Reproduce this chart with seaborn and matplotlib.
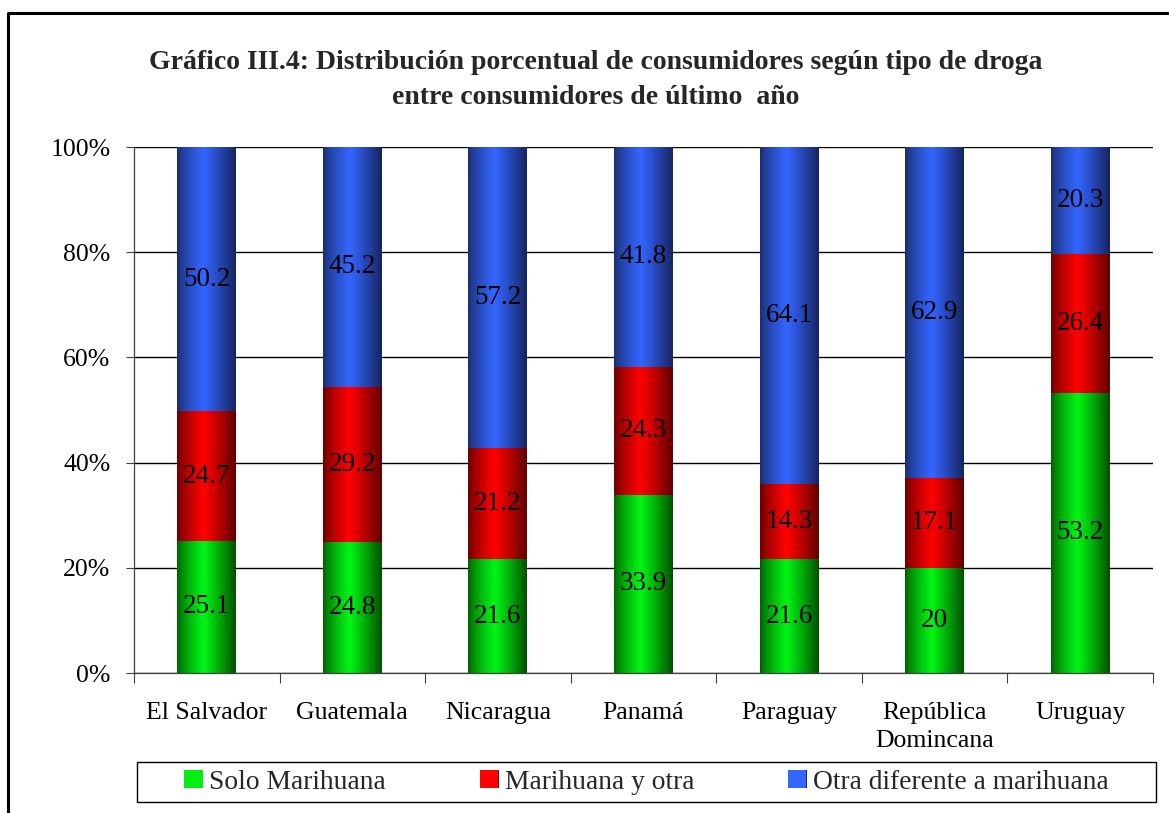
import numpy as np
import pandas as pd
import matplotlib
matplotlib.use("Agg")
import matplotlib.pyplot as plt
import seaborn as sns
from matplotlib.lines import Line2D
from matplotlib.patches import Rectangle, Patch

# ---- data ----
countries = ["El Salvador", "Guatemala", "Nicaragua", "Panamá", "Paraguay",
             "República\nDomincana", "Uruguay"]
solo_marihuana = [25.1, 24.8, 21.6, 33.9, 21.6, 20.0, 53.2]
marihuana_y_otra = [24.7, 29.2, 21.2, 24.3, 14.3, 17.1, 26.4]
otra_diferente = [50.2, 45.2, 57.2, 41.8, 64.1, 62.9, 20.3]
series_names = ["Solo Marihuana", "Marihuana y otra", "Otra diferente a marihuana"]
title = ("Gráfico III.4: Distribución porcentual de consumidores según tipo de droga\n"
         "entre consumidores de último  año")
y_ticks = [0, 0.2, 0.4, 0.6, 0.8, 1.0]
y_ticklabels = ["0%", "20%", "40%", "60%", "80%", "100%"]

sns.set_theme(style="white")
plt.rcParams["font.family"] = ["Liberation Serif", "DejaVu Serif"]

s = np.array(solo_marihuana)
m = np.array(marihuana_y_otra)
o = np.array(otra_diferente)
tot = s + m + o
df = pd.DataFrame({
    "country": countries,
    "c1": s / tot,
    "c2": (s + m) / tot,
    "c3": (s + m + o) / tot,
})

W, H = 1169, 813
fig = plt.figure(figsize=(W / 100, H / 100), dpi=100)
ax = fig.add_axes([134 / W, 1 - 673 / H, (1153 - 134) / W, (673 - 147) / H])

# gradient profiles: (left, bright, right)
grad_cols = {
    "c3": [(26, 42, 105), (51, 102, 255), (22, 36, 95)],
    "c2": [(100, 0, 0), (255, 0, 0), (95, 0, 0)],
    "c1": [(0, 90, 0), (0, 245, 20), (0, 80, 0)],
}
mid_cols = {"c3": "#3366ff", "c2": "#ff0000", "c1": "#00ee11"}

bw = 0.405
layer_z = {"c3": 2.0, "c2": 2.1, "c1": 2.2}
patch_groups = {}
for col in ["c3", "c2", "c1"]:
    n0 = len(ax.patches)
    sns.barplot(data=df, x="country", y=col, color=mid_cols[col], width=bw,
                saturation=1, ax=ax, order=countries, zorder=layer_z[col],
                linewidth=0)
    patch_groups[col] = ax.patches[n0:]


def make_grad(cols, n=200):
    left, mid, right = [np.array(c) / 255 for c in cols]
    t = np.linspace(0, 1, n)
    p = 0.45
    out = np.zeros((1, n, 3))
    for i, ti in enumerate(t):
        if ti <= p:
            f = (ti / p) ** 0.7
            out[0, i] = left + (mid - left) * f
        else:
            f = ((ti - p) / (1 - p)) ** 1.1
            out[0, i] = mid + (right - mid) * f
    return out


for col, patches in patch_groups.items():
    g = make_grad(grad_cols[col])
    for p in patches:
        x0, y0 = p.get_x(), p.get_y()
        w, h = p.get_width(), p.get_height()
        im = ax.imshow(g, extent=[x0, x0 + w, y0, y0 + h], aspect="auto",
                       zorder=layer_z[col] + 0.01, interpolation="bilinear")
        im.set_clip_path(p)

ax.set_xlim(-0.5, len(countries) - 0.5)
ax.set_ylim(0, 1)

# labels centered in segments
bottoms = [np.zeros(len(s)), df["c1"].values, df["c2"].values]
tops = [df["c1"].values, df["c2"].values, df["c3"].values]
vals = [s, m, o]
for b, t, v in zip(bottoms, tops, vals):
    for i in range(len(countries)):
        txt = f"{v[i]:g}"
        ax.text(i, (b[i] + t[i]) / 2, txt, ha="center", va="center",
                fontsize=19.5, color="black", zorder=5)

# axes styling
ax.set_yticks(y_ticks)
ax.set_yticklabels(y_ticklabels, fontsize=18.5)
ax.yaxis.grid(True, color="black", linewidth=1.0)
ax.set_axisbelow(True)
ax.tick_params(axis="y", which="major", left=True, length=6, width=0.8,
               color="#404040", pad=11, labelcolor="black")
ax.set_xticks(range(len(countries)))
ax.set_xticklabels(countries, fontsize=18.5, linespacing=1.35)
ax.set_xticks(np.arange(-0.5, len(countries)), minor=True)
ax.tick_params(axis="x", which="major", length=0, pad=21, labelcolor="black")
ax.tick_params(axis="x", which="minor", bottom=True, length=7, width=0.8,
               color="#404040")
ax.set_xlabel("")
ax.set_ylabel("")
for sp in ["top", "right"]:
    ax.spines[sp].set_visible(False)
for sp in ["left", "bottom"]:
    ax.spines[sp].set_visible(True)
    ax.spines[sp].set_color("#404040")
    ax.spines[sp].set_linewidth(0.9)

# title
fig.text(596 / W, 1 - 80 / H, title, ha="center", va="center",
         fontsize=20, fontweight="bold", linespacing=1.55)

# legend
handles = [Patch(facecolor=mid_cols[c], edgecolor="none") for c in ["c1", "c2", "c3"]]
leg = fig.legend(handles, series_names, loc="center",
                 bbox_to_anchor=((137 + 1156) / 2 / W, 1 - 782 / H),
                 ncol=3, frameon=False, fontsize=19.8, handlelength=0.66,
                 handleheight=0.66, handletextpad=0.25, columnspacing=3.4,
                 borderpad=0.2)
fig.patches.append(Rectangle((137 / W, 1 - 802 / H), (1156 - 137) / W, 40 / H,
                             transform=fig.transFigure, fill=False,
                             edgecolor="black", linewidth=1.0))

# gradient legend keys
fig.canvas.draw()
for c, hp in zip(["c1", "c2", "c3"], leg.legend_handles):
    bb = hp.get_window_extent().transformed(fig.transFigure.inverted())
    kax = fig.add_axes([bb.x0, bb.y0, bb.width, bb.height])
    kax.imshow(make_grad(grad_cols[c]), aspect="auto", interpolation="bilinear")
    kax.set_axis_off()

# figure border
fig.lines.append(Line2D([8 / W, 8 / W, 1.0], [0.0, 1 - 13 / H, 1 - 13 / H],
                        transform=fig.transFigure, color="black", linewidth=2.2))

fig.savefig("out.png", dpi=100)
